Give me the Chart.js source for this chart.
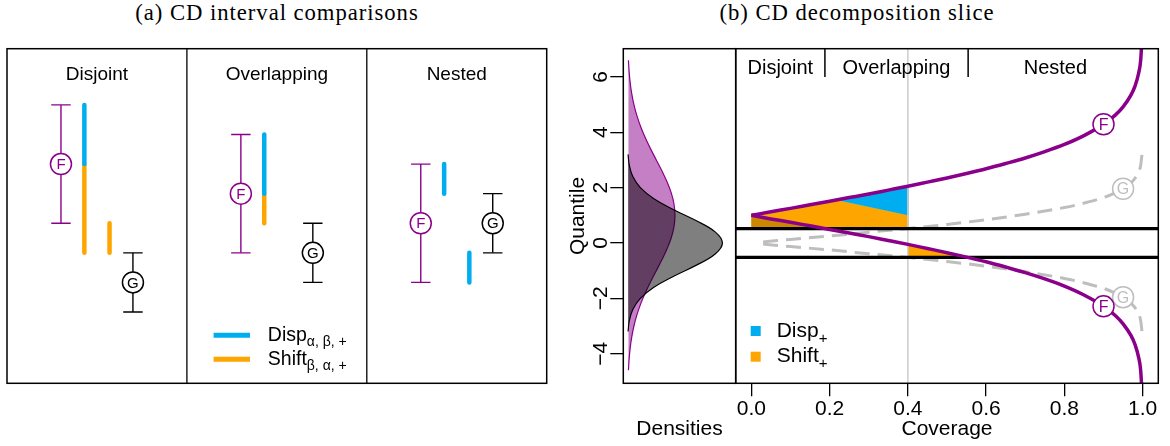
<!DOCTYPE html>
<html>
<head>
<meta charset="utf-8">
<script src="https://cdn.jsdelivr.net/npm/chart.js@4.4.1/dist/chart.umd.min.js"></script>
<style>
  body { margin: 0; background: #fff; width: 1170px; height: 446px; position: relative; overflow: hidden; }
  canvas { position: absolute; }
  .title { position: absolute; top: 0; font-family: "Liberation Serif", serif; font-size: 22.7px;
           letter-spacing: 0.95px; white-space: nowrap; transform: translateX(-50%); color: #000; }
</style>
</head>
<body>
<div class="title" style="left:277px">(a) CD interval comparisons</div>
<div class="title" style="left:857px">(b) CD decomposition slice</div>
<canvas id="chartA" width="560" height="360" style="left:0;top:40px"></canvas>
<canvas id="chartD" width="200" height="446" style="left:540px;top:0"></canvas>
<canvas id="chartM" width="440" height="446" style="left:730px;top:0"></canvas>
<script>
// ---- (a) CD interval comparisons ----
const cases = ['Disjoint', 'Overlapping', 'Nested'];
const fMid = [2, 1, 0];
const fLo = [0, -1, -2];
const fHi = [4, 3, 2];
const gMid = [-2, -1, 0];
const gLo = [-3, -2, -1];
const gHi = [-1, 0, 1];
// [x within case column, from, to]
const dispBars = [[0.43, 4, 2], [1.43, 3, 1], [2.43, 2, 1], [2.57, -1, -2]];
const shiftBars = [[0.43, 2, -1], [0.57, 0, -1], [1.43, 1, 0]];
const fPos = 0.3, gPos = 0.7;

// ---- (b) CD decomposition slice ----
const coverage = [0, 0.05, 0.1, 0.15, 0.2, 0.25, 0.3, 0.35, 0.4, 0.45, 0.5, 0.55, 0.6, 0.65,
                  0.7, 0.75, 0.8, 0.85, 0.9, 0.93, 0.95, 0.97, 0.98, 0.99, 0.995, 0.999];
const fUpper = [1, 1.13, 1.25, 1.38, 1.51, 1.64, 1.77, 1.91, 2.05, 2.2, 2.35, 2.51, 2.68, 2.87,
                3.07, 3.3, 3.56, 3.88, 4.29, 4.62, 4.92, 5.34, 5.65, 6.15, 6.61, 7.58];
const fLower = [1, 0.87, 0.75, 0.62, 0.49, 0.36, 0.23, 0.09, -0.05, -0.2, -0.35, -0.51, -0.68, -0.87,
                -1.07, -1.3, -1.56, -1.88, -2.29, -2.62, -2.92, -3.34, -3.65, -4.15, -4.61, -5.58];
const gCoverage = [0.03, 0.1, 0.2, 0.3, 0.4, 0.5, 0.6, 0.7, 0.8, 0.85, 0.9, 0.93, 0.95, 0.97, 0.98, 0.99, 0.995, 0.999];
const gUpper = [0.04, 0.13, 0.25, 0.39, 0.52, 0.67, 0.84, 1.04, 1.28, 1.44, 1.64, 1.81, 1.96, 2.17, 2.33, 2.58, 2.81, 3.29];
const gLower = gUpper.map(v => -v);
const slice = 0.4;
const gBand = [-0.52, 0.52];
const regionCuts = [0.188, 0.554];
const regionNames = ['Disjoint', 'Overlapping', 'Nested'];
const dispRegion = [[0.217, 1.55], [0.3, 1.77], [0.4, 2.05], [0.4, 1.0]];
const shiftRegion = [[0, 1.0], [0.1, 1.25], [0.217, 1.55], [0.4, 1.0], [0.4, 0.52], [0, 0.52]];
const shiftOverlap = [[0, 1.0], [0.1, 0.75], [0.188, 0.52], [0, 0.52]];
const shiftRegionLow = [[0.4, -0.05], [0.5, -0.35], [0.554, -0.52], [0.4, -0.52]];
const fMarks = [[0.9, 4.29], [0.9, -2.29]];
const gMarks = [[0.95, 1.96], [0.95, -1.96]];
const coverageTicks = [0, 0.2, 0.4, 0.6, 0.8, 1.0];
const quantileTicks = [-4, -2, 0, 2, 4, 6];

// densities (quantile on y, density on x)
const densQF = [-4.6, -4.2, -3.8, -3.4, -3.0, -2.6, -2.2, -1.8, -1.4, -1.0, -0.6, -0.2, 0.2, 0.6, 1.0,
                1.4, 1.8, 2.2, 2.6, 3.0, 3.4, 3.8, 4.2, 4.6, 5.0, 5.4, 5.8, 6.2, 6.6];
const densF = [0.004, 0.0068, 0.0112, 0.0178, 0.027, 0.0395, 0.0555, 0.0749, 0.0971, 0.121, 0.1449,
               0.1666, 0.1842, 0.1955, 0.1995, 0.1955, 0.1842, 0.1666, 0.1449, 0.121, 0.0971, 0.0749,
               0.0555, 0.0395, 0.027, 0.0178, 0.0112, 0.0068, 0.004];
const densQG = [-3.2, -2.8, -2.4, -2.0, -1.6, -1.2, -0.8, -0.4, 0, 0.4, 0.8, 1.2, 1.6, 2.0, 2.4, 2.8, 3.2];
const densG = [0.0024, 0.0079, 0.0224, 0.054, 0.1109, 0.1942, 0.2897, 0.3683, 0.3989,
               0.3683, 0.2897, 0.1942, 0.1109, 0.054, 0.0224, 0.0079, 0.0024];

const SANS = '"Liberation Sans", Arial, sans-serif';
const PURPLE = '#8B008B';
const BLUE = '#00AEEF';
const ORANGE = '#FFA500';
const BROWN = '#CC8800';
const GREY = '#BEBEBE';

const pts = arr => arr.map(p => ({x: p[0], y: p[1]}));
const zip = (xs, ys) => xs.map((x, i) => ({x: x, y: ys[i]}));

function seg(x0, y0, x1, y1, color, width, extra) {
    return Object.assign({
        data: [{x: x0, y: y0}, {x: x1, y: y1}],
        showLine: true, borderColor: color, borderWidth: width,
        pointRadius: 0, fill: false
    }, extra || {});
}

function markSet(arr, color, letter, size, radius) {
    return {
        data: pts(arr), showLine: false, pointRadius: radius, pointHoverRadius: radius,
        pointBackgroundColor: '#fff', pointBorderColor: color, pointBorderWidth: 1.5,
        letter: letter, letterColor: color, letterSize: size
    };
}

function drawSub(ctx, x, y, main, sub, size, subSize) {
    ctx.textAlign = 'left';
    ctx.textBaseline = 'alphabetic';
    ctx.font = size + 'px ' + SANS;
    ctx.fillText(main, x, y);
    const w = ctx.measureText(main).width;
    ctx.font = subSize + 'px ' + SANS;
    ctx.fillText(sub, x + w, y + subSize * 0.4);
}

const framePlugin = {
    id: 'frame',
    afterDatasetsDraw(chart) {
        const {ctx, chartArea: a} = chart;
        ctx.save();
        ctx.strokeStyle = '#000';
        ctx.lineWidth = 1.5;
        ctx.strokeRect(a.left, a.top, a.right - a.left, a.bottom - a.top);
        ctx.restore();
    }
};

const letterPlugin = {
    id: 'letters',
    afterDatasetsDraw(chart) {
        const ctx = chart.ctx;
        ctx.save();
        ctx.textAlign = 'center';
        ctx.textBaseline = 'middle';
        chart.data.datasets.forEach((ds, i) => {
            if (!ds.letter) return;
            ctx.fillStyle = ds.letterColor;
            ctx.font = ds.letterSize + 'px ' + SANS;
            chart.getDatasetMeta(i).data.forEach(pt => ctx.fillText(ds.letter, pt.x, pt.y + 1));
        });
        ctx.restore();
    }
};

const baseOptions = {
    responsive: false,
    animation: false,
    events: [],
    plugins: {legend: {display: false}, tooltip: {enabled: false}}
};

// ---------- chart A ----------
const dsA = [];
cases.forEach((c, i) => {
    dsA.push(markSet([[i + fPos, fMid[i]]], PURPLE, 'F', 15, 10.5));
    dsA.push(markSet([[i + gPos, gMid[i]]], '#000', 'G', 15, 10.5));
});
cases.forEach((c, i) => {
    const cw = 0.054;
    dsA.push(seg(i + fPos, fLo[i], i + fPos, fHi[i], PURPLE, 1.4));
    dsA.push(seg(i + fPos - cw, fLo[i], i + fPos + cw, fLo[i], PURPLE, 1.4));
    dsA.push(seg(i + fPos - cw, fHi[i], i + fPos + cw, fHi[i], PURPLE, 1.4));
    dsA.push(seg(i + gPos, gLo[i], i + gPos, gHi[i], '#000', 1.4));
    dsA.push(seg(i + gPos - cw, gLo[i], i + gPos + cw, gLo[i], '#000', 1.4));
    dsA.push(seg(i + gPos - cw, gHi[i], i + gPos + cw, gHi[i], '#000', 1.4));
});
dispBars.forEach(b => dsA.push(seg(b[0], b[1], b[0], b[2], BLUE, 4.5, {borderCapStyle: 'round'})));
shiftBars.forEach(b => dsA.push(seg(b[0], b[1], b[0], b[2], ORANGE, 4.5, {borderCapStyle: 'round'})));
[1, 2].forEach(x => dsA.push(seg(x, -5.41, x, 5.9, '#000', 1.3)));

new Chart(document.getElementById('chartA'), {
    type: 'scatter',
    data: {datasets: dsA},
    options: Object.assign({}, baseOptions, {
        layout: {autoPadding: false, padding: {left: 7, top: 8.7, right: 13.3, bottom: 16.7}},
        scales: {
            x: {type: 'linear', min: 0, max: 3, display: false},
            y: {type: 'linear', min: -5.41, max: 5.9, display: false}
        }
    }),
    plugins: [framePlugin, letterPlugin, {
        id: 'panelText',
        afterDraw(chart) {
            const {ctx, chartArea: a, scales: {x}} = chart;
            ctx.save();
            ctx.fillStyle = '#000';
            ctx.font = '19px ' + SANS;
            ctx.textAlign = 'center';
            ctx.textBaseline = 'middle';
            cases.forEach((c, i) => ctx.fillText(c, x.getPixelForValue(i + 0.5), a.top + 25.6));
            // legend
            ctx.lineWidth = 5;
            ctx.lineCap = 'butt';
            [[BLUE, 286.6, 'Disp', 'α, β, +'], [ORANGE, 310.6, 'Shift', 'β, α, +']].forEach(l => {
                ctx.strokeStyle = l[0];
                ctx.beginPath();
                ctx.moveTo(a.left + 206.6, a.top + l[1]);
                ctx.lineTo(a.left + 243, a.top + l[1]);
                ctx.stroke();
                ctx.fillStyle = '#000';
                drawSub(ctx, a.left + 260.8, a.top + l[1] + 5.5, l[2], l[3], 19.5, 14);
            });
            ctx.restore();
        }
    }]
});

// ---------- chart D (densities) ----------
new Chart(document.getElementById('chartD'), {
    type: 'scatter',
    data: {
        datasets: [
            {data: zip(densG, densQG), showLine: true, pointRadius: 0, tension: 0.4,
             borderColor: '#000', borderWidth: 1.2, backgroundColor: 'rgba(0,0,0,0.5)', fill: 'shape'},
            {data: zip(densF, densQF), showLine: true, pointRadius: 0, tension: 0.4,
             borderColor: PURPLE, borderWidth: 1.2, backgroundColor: 'rgba(139,0,139,0.5)', fill: 'shape'}
        ]
    },
    options: Object.assign({}, baseOptions, {
        layout: {autoPadding: false, padding: {left: 0, top: 48.7, right: 4.3, bottom: 0}},
        scales: {
            x: {
                type: 'linear', min: -0.0176, max: 0.4546,
                ticks: {display: false}, grid: {display: false}, border: {display: false},
                title: {display: true, text: 'Densities', color: '#000',
                        font: {family: SANS, size: 21}, padding: {top: 0, bottom: 3.7}},
                afterFit: s => { s.height = 62.7; }
            },
            y: {
                type: 'linear', min: -5.07, max: 7.02, position: 'left',
                afterBuildTicks: s => { s.ticks = quantileTicks.map(v => ({value: v})); },
                ticks: {display: false},
                grid: {drawOnChartArea: false, color: '#000', tickLength: 13, lineWidth: 1.3},
                border: {display: false},
                title: {display: true, text: 'Quantile', color: '#000',
                        font: {family: SANS, size: 21}, padding: {top: 25.4, bottom: 0}},
                afterFit: s => { s.width = 83.3; }
            }
        }
    }),
    plugins: [framePlugin, {
        id: 'rotTicks',
        afterDraw(chart) {
            const {ctx, chartArea: a, scales: {y}} = chart;
            ctx.save();
            ctx.fillStyle = '#000';
            ctx.font = '21px ' + SANS;
            ctx.textAlign = 'center';
            ctx.textBaseline = 'middle';
            quantileTicks.forEach(v => {
                ctx.save();
                ctx.translate(a.left - 22.5, y.getPixelForValue(v));
                ctx.rotate(-Math.PI / 2);
                ctx.fillText(v < 0 ? '\u2212' + Math.abs(v) : String(v), 0, 0);
                ctx.restore();
            });
            ctx.restore();
        }
    }]
});

// ---------- chart M (coverage slice) ----------
const poly = (arr, color) => ({
    data: pts(arr), showLine: true, pointRadius: 0, borderColor: color, borderWidth: 0.8,
    backgroundColor: color, fill: 'shape'
});

const dsM = [
    markSet(fMarks, PURPLE, 'F', 16, 10.5),
    markSet(gMarks, GREY, 'G', 16, 10.5),
    {data: zip(coverage, fUpper), showLine: true, pointRadius: 0, borderColor: PURPLE, borderWidth: 3.5,
     cubicInterpolationMode: 'monotone'},
    {data: zip(coverage, fLower), showLine: true, pointRadius: 0, borderColor: PURPLE, borderWidth: 3.5,
     cubicInterpolationMode: 'monotone'},
    seg(-0.04, gBand[0], 1.04, gBand[0], '#000', 3.2),
    seg(-0.04, gBand[1], 1.04, gBand[1], '#000', 3.2),
    {data: zip(gCoverage, gUpper), showLine: true, pointRadius: 0, borderColor: GREY, borderWidth: 3,
     borderDash: [15, 8], cubicInterpolationMode: 'monotone'},
    {data: zip(gCoverage, gLower), showLine: true, pointRadius: 0, borderColor: GREY, borderWidth: 3,
     borderDash: [15, 8], cubicInterpolationMode: 'monotone'},
    seg(slice, -5.07, slice, 7.02, '#CCCCCC', 1.5),
    seg(regionCuts[0], 6.0, regionCuts[0], 7.02, '#000', 1.5),
    seg(regionCuts[1], 6.0, regionCuts[1], 7.02, '#000', 1.5),
    poly(dispRegion, BLUE),
    poly(shiftOverlap, BROWN),
    poly(shiftRegion, ORANGE),
    poly(shiftRegionLow, ORANGE)
];

new Chart(document.getElementById('chartM'), {
    type: 'scatter',
    data: {datasets: dsM},
    options: Object.assign({}, baseOptions, {
        layout: {autoPadding: false, padding: {left: 5.7, top: 48.7, right: 11.7, bottom: 0}},
        scales: {
            x: {
                type: 'linear', min: -0.04, max: 1.04,
                afterBuildTicks: s => { s.ticks = coverageTicks.map(v => ({value: v})); },
                ticks: {color: '#000', font: {family: SANS, size: 21}, padding: 0,
                        callback: v => Number(v).toFixed(1)},
                grid: {drawOnChartArea: false, color: '#000', tickLength: 13, lineWidth: 1.3},
                border: {display: false},
                title: {display: true, text: 'Coverage', color: '#000',
                        font: {family: SANS, size: 21}, padding: {top: 0, bottom: 3.7}},
                afterFit: s => { s.height = 62.7; }
            },
            y: {type: 'linear', min: -5.07, max: 7.02, display: false}
        }
    }),
    plugins: [framePlugin, letterPlugin, {
        id: 'sliceText',
        afterDraw(chart) {
            const {ctx, chartArea: a, scales: {x}} = chart;
            ctx.save();
            ctx.fillStyle = '#000';
            ctx.font = '20px ' + SANS;
            ctx.textAlign = 'center';
            ctx.textBaseline = 'middle';
            const bounds = [x.min, regionCuts[0], regionCuts[1], 1];
            regionNames.forEach((n, i) => {
                const cx = (x.getPixelForValue(bounds[i]) + x.getPixelForValue(bounds[i + 1])) / 2;
                ctx.fillText(n, cx, a.top + 19.3);
            });
            [[BLUE, 282.3, 'Disp'], [ORANGE, 308, 'Shift']].forEach(l => {
                ctx.fillStyle = l[0];
                ctx.fillRect(a.left + 15, a.top + l[1] - 5, 10, 10);
                ctx.fillStyle = '#000';
                drawSub(ctx, a.left + 41, a.top + l[1] + 5.5, l[2], '+', 21, 15);
            });
            ctx.restore();
        }
    }]
});
</script>
</body>
</html>
